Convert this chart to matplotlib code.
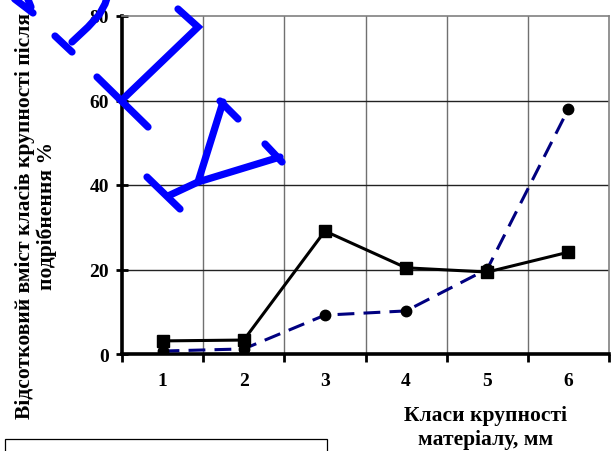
import matplotlib.pyplot as plt
from matplotlib.lines import Line2D
from matplotlib.patches import Rectangle

W, H = 616, 452

classes = [1, 2, 3, 4, 5, 6]
squares = [3.1, 3.3, 29.1, 20.4, 19.4, 24.1]
circles = [0.7, 1.2, 9.2, 10.2, 20.1, 58.0]
y_ticks = [0, 20, 40, 60, 80]

ylabel = "Відсотковий вміст класів крупності після\nподрібнення %"
xlabel = "Класи крупності\nматеріалу, мм"

# hand-drawn blue pen strokes over the upper-left corner (pixel coords, y down)
pen_strokes = [
    [(12, -2), (33, 14)],
    [(27, -2), (31, 8)],
    [(72, 43), (88, 28), (99, 16), (105, 5), (108, -4)],
    [(55, 37), (72, 53)],
    [(178, 10), (198, 28), (123, 100)],
    [(97, 78), (148, 128)],
    [(198, 183), (223, 103)],
    [(220, 102), (238, 120)],
    [(168, 197), (198, 183), (280, 158)],
    [(147, 178), (180, 210)],
    [(265, 145), (282, 163)],
]

plt.rcParams["font.family"] = ["Liberation Serif", "DejaVu Serif"]
plt.rcParams["font.weight"] = "bold"


def px(x, y):
    return x / W, 1 - y / H


fig = plt.figure(figsize=(W / 100, H / 100), dpi=100)
ax = fig.add_axes([122 / W, 1 - 355 / H, (609 - 122) / W, (355 - 17) / H])

ax.plot(classes, squares, color="black", lw=2.2, marker="s", ms=8.5,
        mfc="black", mec="black", zorder=4)
ax.plot(classes, circles, color="#000080", lw=2.2, ls=(0, (5.5, 3)), marker="o",
        ms=7.5, mfc="black", mec="black", zorder=3)

ax.set_xlim(0.5, 6.5)
ax.set_ylim(0, 80)
ax.set_yticks(y_ticks)
ax.set_yticklabels([str(v) for v in y_ticks], fontsize=14, fontweight="bold")
ax.tick_params(axis="y", direction="inout", length=9, width=2, pad=5)

# category boundaries carry the ticks, labels sit at the category centres
bounds = [c + 0.5 for c in [0] + classes]
ax.set_xticks(bounds)
ax.set_xticklabels([])
ax.set_xticks(classes, minor=True)
ax.set_xticklabels([str(c) for c in classes], minor=True, fontsize=14,
                   fontweight="bold")
ax.tick_params(axis="x", which="major", direction="out", length=6, width=2)
ax.tick_params(axis="x", which="minor", length=0, pad=13)

for b in bounds[1:-1]:
    ax.axvline(b, color="#707070", lw=1.0, zorder=1)
for v in y_ticks[1:-1]:
    ax.axhline(v, color="#222222", lw=1.0, zorder=1)

ax.spines["left"].set_linewidth(2.6)
ax.spines["bottom"].set_linewidth(2.6)
for side in ("top", "right"):
    ax.spines[side].set_color("#808080")
    ax.spines[side].set_linewidth(1.2)

fig.text(*px(36, 216), ylabel, rotation=90, ha="center", va="center",
         multialignment="center", fontsize=15.5, fontweight="bold",
         linespacing=1.1)
fig.text(*px(486, 428), xlabel, ha="center", va="center",
         multialignment="center", fontsize=15.5, fontweight="bold",
         linespacing=1.3)

# empty legend frame running off the bottom edge
x0, y0 = px(5, 470)
x1, y1 = px(327, 440)
fig.patches.append(Rectangle((x0, y0), x1 - x0, y1 - y0, transform=fig.transFigure,
                             fill=False, ec="black", lw=0.9))

for stroke in pen_strokes:
    xs, ys = zip(*[px(x, y) for x, y in stroke])
    fig.add_artist(Line2D(xs, ys, transform=fig.transFigure, color="#0000ff",
                          lw=5.2, solid_capstyle="round",
                          solid_joinstyle="miter", zorder=10))

fig.savefig("out.png", dpi=100)
